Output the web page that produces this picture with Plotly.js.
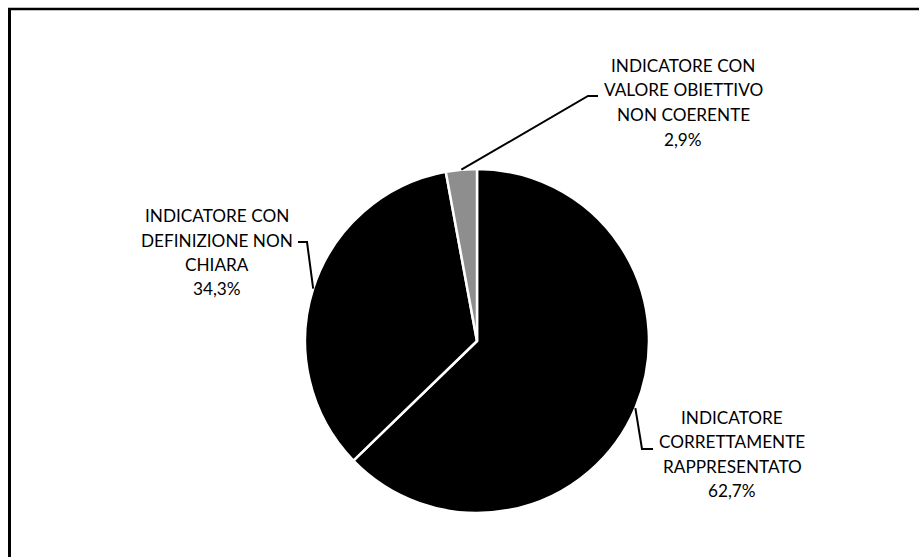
<!DOCTYPE html>
<html><head><meta charset="utf-8">
<script src="https://cdn.plot.ly/plotly-3.0.1.min.js"></script>
<style>html,body{margin:0;padding:0;background:#fff}</style>
</head><body><div id="chart" style="width:919px;height:557px"></div>
<script>
// ---- data ----
const categories = ['INDICATORE CORRETTAMENTE RAPPRESENTATO', 'INDICATORE CON DEFINIZIONE NON CHIARA', 'INDICATORE CON VALORE OBIETTIVO NON COERENTE'];
const labelLines = [['INDICATORE', 'CORRETTAMENTE', 'RAPPRESENTATO'], ['INDICATORE CON', 'DEFINIZIONE NON', 'CHIARA'], ['INDICATORE CON', 'VALORE OBIETTIVO', 'NON COERENTE']];
const shares = [62.7, 34.3, 2.9];
const sliceColors = ['#000000', '#000000', '#8e8e8e'];

// ---- layout geometry (pixels) ----
const W = 919, H = 557;
const CX = 477, CY = 341, R = 172;
const labelLayout = [
  {x: 732, y0: 417, dy: 24.5, elbow: [642, 449], end: [653, 449]},
  {x: 217, y0: 216, dy: 24.3, elbow: [307, 242], end: [298, 242]},
  {x: 683, y0: 65, dy: 24.7, elbow: [588, 96], end: [598, 96]}
];
const px = x => x / W, py = y => 1 - y / H;
const font = {family: 'Lato, "Open Sans", sans-serif', size: 17.2, color: '#000'};

const total = shares.reduce((a, b) => a + b, 0);
const annotations = [], shapes = [];
let cum = 0;
shares.forEach((v, i) => {
  const mid = (cum + v / 2) / total * 2 * Math.PI;
  cum += v;
  const sx = CX + R * Math.sin(mid), sy = CY - R * Math.cos(mid);
  const L = labelLayout[i];
  shapes.push({type: 'path', xref: 'paper', yref: 'paper',
    path: `M ${px(sx)} ${py(sy)} L ${px(L.elbow[0])} ${py(L.elbow[1])} L ${px(L.end[0])} ${py(L.end[1])}`,
    line: {color: '#000', width: 2}});
  const lines = labelLines[i].concat([v.toFixed(1).replace('.', ',') + '%']);
  lines.forEach((t, k) => {
    annotations.push({text: t, x: px(L.x), y: py(L.y0 + k * L.dy), xref: 'paper', yref: 'paper',
      xanchor: 'center', yanchor: 'middle', showarrow: false, font: font});
  });
});
// frame
shapes.push({type: 'line', xref: 'paper', yref: 'paper', x0: px(9.5), x1: px(9.5), y0: 0, y1: py(8), line: {color: '#000', width: 3}});
shapes.push({type: 'line', xref: 'paper', yref: 'paper', x0: px(8), x1: 1, y0: py(9), y1: py(9), line: {color: '#000', width: 2.5}});

const trace = {
  type: 'pie', labels: categories, values: shares, sort: false, direction: 'clockwise', rotation: 0,
  marker: {colors: sliceColors, line: {color: '#ffffff', width: 2.5}},
  textinfo: 'none', hoverinfo: 'none', showlegend: false,
  domain: {x: [px(CX - R), px(CX + R)], y: [py(CY + R), py(CY - R)]}
};
Plotly.newPlot('chart', [trace], {
  width: W, height: H, margin: {l: 0, r: 0, t: 0, b: 0},
  paper_bgcolor: '#fff', plot_bgcolor: '#fff', showlegend: false,
  annotations: annotations, shapes: shapes
}, {displayModeBar: false, staticPlot: true});
</script></body></html>
